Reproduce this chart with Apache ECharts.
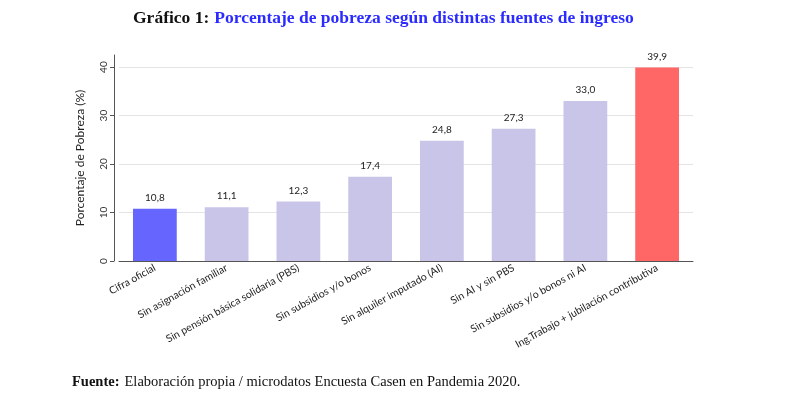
<!DOCTYPE html>
<html>
<head>
<meta charset="utf-8">
<script src="https://cdn.jsdelivr.net/npm/echarts@6/dist/echarts.min.js"></script>
<style>
  html, body { margin: 0; padding: 0; background: #fff; }
  #chart { width: 786px; height: 399px; }
</style>
</head>
<body>
<div id="chart"></div>
<script>
const categories = [
  "Cifra oficial",
  "Sin asignación familiar",
  "Sin pensión básica solidaria (PBS)",
  "Sin subsidios y/o bonos",
  "Sin alquiler imputado (AI)",
  "Sin AI y sin PBS",
  "Sin subsidios y/o bonos ni AI",
  "Ing.Trabajo + jubilación contributiva"
];
const poverty = [10.8, 11.1, 12.3, 17.4, 24.8, 27.3, 33.0, 39.9];
const barColors = ["#6666ff", "#c9c5e8", "#c9c5e8", "#c9c5e8", "#c9c5e8", "#c9c5e8", "#c9c5e8", "#ff6666"];

const chart = echarts.init(document.getElementById("chart"));

chart.setOption({
  animation: false,
  grid: { left: 119, right: 93, top: 55, bottom: 138 },
  title: [
    {
      left: 133,
      top: 9,
      padding: 0,
      text: "{a|Gráfico 1:} {b|Porcentaje de pobreza según distintas fuentes de ingreso}",
      textStyle: {
        rich: {
          a: { fontFamily: "Liberation Serif", fontWeight: "bold", fontSize: 17.5, color: "#111" },
          b: { fontFamily: "Liberation Serif", fontWeight: "bold", fontSize: 17.5, color: "#2b2bff" }
        }
      }
    },
    {
      left: 72,
      top: 373,
      padding: 0,
      text: "{a|Fuente:} {b|Elaboración propia / microdatos Encuesta Casen en Pandemia 2020.}",
      textStyle: {
        fontWeight: "normal",
        rich: {
          a: { fontFamily: "Liberation Serif", fontWeight: "bold", fontSize: 14.5, color: "#111" },
          b: { fontFamily: "Liberation Serif", fontWeight: "normal", fontSize: 14.5, color: "#111" }
        }
      }
    }
  ],
  xAxis: {
    type: "category",
    data: categories,
    axisLine: { lineStyle: { color: "#555" } },
    axisTick: { show: false },
    axisLabel: {
      interval: 0,
      rotate: 29,
      margin: 6,
      fontFamily: "Lato",
      fontSize: 10.4,
      color: "#222"
    }
  },
  yAxis: {
    type: "value",
    min: 0,
    max: 42.5,
    interval: 10,
    offset: 5,
    name: "Porcentaje de Pobreza (%)",
    nameLocation: "middle",
    nameGap: 28,
    nameTextStyle: { fontFamily: "Lato", fontSize: 12, color: "#222" },
    axisLine: { show: true, lineStyle: { color: "#555" } },
    axisTick: { show: true, length: 4, lineStyle: { color: "#555" } },
    axisLabel: {
      rotate: 90,
      margin: 5,
      fontFamily: "Lato",
      fontSize: 10,
      color: "#333",
      showMaxLabel: false
    },
    splitLine: { showMaxLine: false, lineStyle: { color: "#e3e3e3" } }
  },
  series: [
    {
      type: "bar",
      data: poverty.map((v, i) => ({ value: v, itemStyle: { color: barColors[i] } })),
      barWidth: "61%",
      label: {
        show: true,
        position: "top",
        distance: 6,
        fontFamily: "Lato",
        fontSize: 10,
        color: "#222",
        formatter: p => p.value.toFixed(1).replace(".", ",")
      }
    }
  ]
});
</script>
</body>
</html>
